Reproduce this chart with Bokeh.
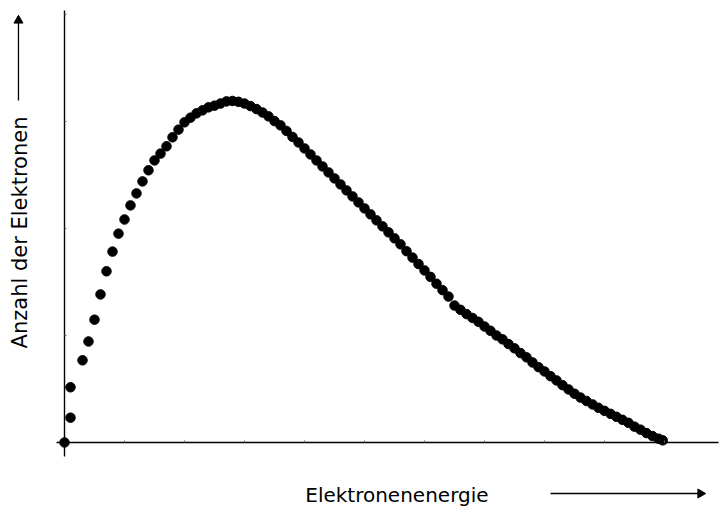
import math
from bokeh.plotting import figure
from bokeh.models import Range1d, LinearAxis, FixedTicker, Label, ColumnDataSource
from bokeh.embed import file_html
from bokeh.resources import INLINE

# --- data ---
energy = [0, 1, 1, 3, 4, 5, 6, 7, 8, 9,
          10, 11, 12, 13, 14, 15, 16, 17, 18, 19,
          20, 21, 22, 23, 24, 25, 26, 27, 28, 29,
          30, 31, 32, 33, 34, 35, 36, 37, 38, 39,
          40, 41, 42, 43, 44, 45, 46, 47, 48, 49,
          50, 51, 52, 53, 54, 55, 56, 57, 58, 59,
          60, 61, 62, 63, 64, 65, 66, 67, 68, 69,
          70, 71, 72, 73, 74, 75, 76, 77, 78, 79,
          80, 81, 82, 83, 84, 85, 86, 87, 88, 89,
          90, 91, 92, 93, 94, 95, 96, 97, 98, 99, 99.7]
count = [0.0, 5.8, 12.9, 19.2, 23.6, 28.7, 34.6, 40.0, 44.6, 48.8,
         52.1, 55.4, 58.2, 61.0, 63.6, 65.9, 67.5, 69.2, 71.3, 73.1,
         74.8, 75.9, 76.9, 77.6, 78.3, 78.7, 79.2, 79.7, 79.8, 79.6,
         79.2, 78.6, 77.9, 77.1, 76.2, 75.1, 74.1, 72.8, 71.4, 70.1,
         68.7, 67.3, 65.9, 64.5, 63.1, 61.7, 60.3, 58.9, 57.5, 56.1,
         54.7, 53.3, 51.9, 50.5, 49.1, 47.7, 46.3, 44.7, 43.2, 41.7,
         40.2, 38.7, 37.1, 35.6, 34.1, 32.0, 31.0, 30.0, 29.1, 28.2,
         27.1, 26.1, 25.0, 24.1, 23.0, 22.0, 20.9, 19.9, 18.7, 17.6,
         16.6, 15.5, 14.5, 13.4, 12.4, 11.4, 10.5, 9.7, 8.9, 8.1,
         7.4, 6.7, 6.0, 5.3, 4.6, 3.7, 3.0, 2.2, 1.5, 0.9, 0.5]
x_minor_ticks = [10, 20, 30, 40, 50, 60, 70, 80, 90, 100]
y_minor_ticks = [25, 50, 75, 100]
x_label = "Elektronenenergie"
y_label = "Anzahl der Elektronen"

FONT = "DejaVu Sans"

# frame covers the whole canvas; axes sit at data 0 with limited bounds
p = figure(width=720, height=508, output_backend="svg", toolbar_location=None,
           x_range=Range1d(-10.667, 109.333), y_range=Range1d(-15.42, 103.27),
           x_axis_type=None, y_axis_type=None,
           min_border_left=0, min_border_right=0, min_border_top=0, min_border_bottom=0)
p.outline_line_color = None
p.background_fill_color = "white"
p.border_fill_color = "white"

def make_axis(minor, bounds):
    ax = LinearAxis(fixed_location=0, bounds=bounds,
                    ticker=FixedTicker(ticks=[], minor_ticks=minor))
    ax.axis_line_color = "black"
    ax.axis_line_width = 1.4
    ax.major_tick_line_color = None
    ax.major_tick_in = 0
    ax.major_tick_out = 0
    ax.minor_tick_line_color = "#666666"
    ax.minor_tick_in = 2
    ax.minor_tick_out = 0
    ax.major_label_text_font_size = "0px"
    ax.major_label_standoff = 0
    return ax

p.add_layout(make_axis(x_minor_ticks, (-1.33, 109.0)), "below")
p.add_layout(make_axis(y_minor_ticks, (-3.27, 100.93)), "left")

src = ColumnDataSource(dict(energy=energy, count=count))
p.scatter("energy", "count", source=src, size=9.5, fill_color="black", line_color="black")

# x axis caption and arrow
p.add_layout(Label(x=55.4, y=-12.2, text=x_label, text_align="center", text_baseline="alphabetic",
                   text_font=FONT, text_font_size="20px", text_color="black"))
p.segment(x0=[81.0], y0=[-11.92], x1=[105.6], y1=[-11.92], line_color="black", line_width=1.3)
p.scatter(x=[106.0], y=[-11.92], marker="triangle", angle=-math.pi / 2, size=9,
          fill_color="black", line_color="black")

# y axis caption and arrow
p.add_layout(Label(x=-7.45, y=49.07, text=y_label, angle=math.pi / 2, text_align="center",
                   text_baseline="alphabetic", text_font=FONT, text_font_size="21px", text_color="black"))
p.segment(x0=[-7.67], y0=[79.9], x1=[-7.67], y1=[98.2], line_color="black", line_width=1.3)
p.scatter(x=[-7.67], y=[98.6], marker="triangle", size=9,
          fill_color="black", line_color="black")

open("out.html", "w").write(file_html(p, INLINE))
